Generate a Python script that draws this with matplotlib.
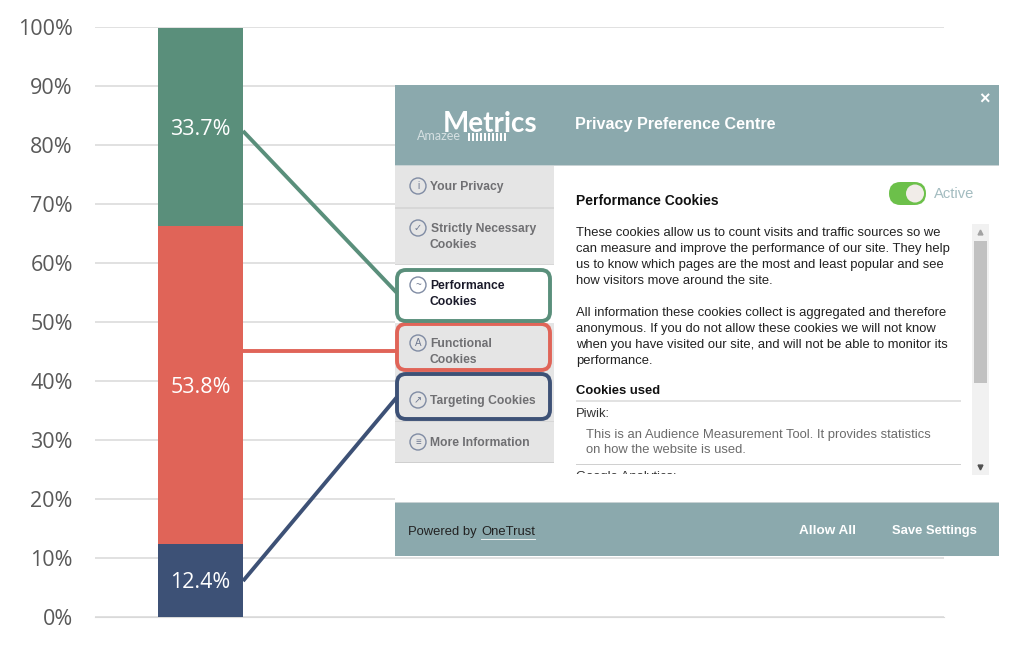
import matplotlib.pyplot as plt
from matplotlib.patches import Rectangle, FancyBboxPatch, Circle

shares = [12.4, 53.8, 33.7]
share_colors = ["#3d5176", "#e06458", "#5a8f7b"]
y_ticks = list(range(0, 101, 10))

W, H = 1023, 645
fig = plt.figure(figsize=(W / 100, H / 100), dpi=100)

# main chart, pixel box 95..944 x 27..617
ax = fig.add_axes([95 / W, (H - 617) / H, (944 - 95) / W, 590 / H])
ax.set_xlim(-0.5 - 63 / 85 + 0.0, 0.5 + 701 / 85)
ax.set_ylim(0, 100)
bottom = 0
for val, col in zip(shares, share_colors):
    ax.bar(0, val, width=1, bottom=bottom, color=col, zorder=3)
    ax.annotate(f"{val}%", (0, bottom + val / 2), xytext=(0, -1.5), textcoords="offset points",
                color="white", ha="center", va="center", fontsize=15.5, family="Open Sans", zorder=4)
    bottom += val
ax.set_yticks(y_ticks)
ax.set_yticklabels([f"{t}%" for t in y_ticks], fontsize=15.5, family="Open Sans", color="#595959")
ax.set_xticks([])
ax.grid(axis="y", color="#d9d9d9", lw=1.1, zorder=0)
ax.tick_params(axis="y", length=0, pad=16)
for s in ax.spines.values():
    s.set_visible(False)
ax.spines["bottom"].set_visible(True)
ax.spines["bottom"].set_color("#d9d9d9")

# overlay in pixel coordinates
ov = fig.add_axes([0, 0, 1, 1], zorder=5)
ov.set_xlim(0, W)
ov.set_ylim(H, 0)
ov.axis("off")
ov.patch.set_alpha(0)

teal = "#8ba9ad"
sans = ["Liberation Sans", "DejaVu Sans"]


def rect(x0, y0, x1, y1, col, z=1):
    ov.add_patch(Rectangle((x0, y0), x1 - x0, y1 - y0, fc=col, ec="none", zorder=z))


def txt(x, y, s, col="#222222", size=9.4, weight="normal", ha="left", **kw):
    ov.text(x, y + 1, s, color=col, fontsize=size, weight=weight, ha=ha, va="center",
            family=sans, zorder=6, **kw)


rect(395, 85, 999, 556, "white")
rect(395, 85, 999, 165, teal, 2)
rect(395, 165, 999, 166, "#c8d2d4", 2)
rect(395, 503, 999, 556, teal, 2)
rect(395, 502, 999, 503, "#c8d2d4", 2)

# logo and title
ov.text(443, 124, "Metrics", color="white", fontsize=20, family="Lato", weight="bold", va="center", zorder=6)
ov.text(417, 136, "Amazee", color="#d5e0e2", fontsize=9, family="Lato", va="center", zorder=6)
for px in range(468, 505, 4):
    rect(px, 133, px + 2, 141, "white", 6)
txt(575, 123, "Privacy Preference Centre", "white", 11.6, "bold")
txt(984, 99, "\u00d7", "white", 13, "bold", ha="center")

# side menu
rect(395, 166, 554, 463, "#e5e5e5", 2)
rect(395, 207, 554, 208.5, "#d7d7d7", 3)
rect(395, 264, 554, 265, "#d7d7d7", 3)
rect(395, 421, 554, 422, "#d7d7d7", 3)
rect(395, 462, 554, 463, "#cfcfcf", 3)
rect(395, 265, 554, 323, "white", 3)

grey = "#6f6f72"
menu = [(186, "Your Privacy", 430, grey, 186), (228, "Strictly Necessary", 431, grey, 228),
        (244, "Cookies", 430, grey, None), (285, "Performance", 430, "#1a1a2a", 285),
        (301, "Cookies", 430, "#1a1a2a", None), (343, "Functional", 430, grey, 343),
        (359, "Cookies", 430, grey, None), (400, "Targeting Cookies", 430, grey, 400),
        (442, "More Information", 430, grey, 442)]
for y, label, x, col, icon_y in menu:
    txt(x, y, label, col, 8.7, "bold")
    if icon_y is not None:
        ov.add_patch(Circle((418, icon_y), 8, fc="none", ec="#7f8ba3", lw=1, zorder=6))
icon_marks = ["i", "\u2713", "~", "A", "\u2197", "\u2261"]
for y, m in zip([186, 228, 285, 343, 400, 442], icon_marks):
    txt(418, y - 1, m, "#6d7890", 7, ha="center")

# highlighted rows
for (x0, y0, x1, y1), col in zip([(397, 374, 550, 419), (397, 324, 550, 370), (397, 270, 550, 321)],
                                 share_colors):
    ov.add_patch(FancyBboxPatch((x0 + 8, y0 + 8), x1 - x0 - 16, y1 - y0 - 16,
                                boxstyle="round,pad=8,rounding_size=9", fc="none", ec=col,
                                lw=2.8, zorder=7))

# connectors, starting at the bar's right edge
for (x0, y0, x1, y1), col in zip([(243, 581, 397, 397), (243, 351, 397, 351), (243, 131, 397, 293)],
                                 share_colors):
    ov.plot([x0, x1], [y0, y1], color=col, lw=2.8, zorder=7, solid_capstyle="butt")

# right hand text
txt(576, 200, "Performance Cookies", "#111111", 10, "bold")
body = [(232, "These cookies allow us to count visits and traffic sources so we"),
        (248, "can measure and improve the performance of our site. They help"),
        (264, "us to know which pages are the most and least popular and see"),
        (280, "how visitors move around the site."),
        (312, "All information these cookies collect is aggregated and therefore"),
        (328, "anonymous. If you do not allow these cookies we will not know"),
        (344, "when you have visited our site, and will not be able to monitor its"),
        (360, "performance.")]
for y, line in body:
    txt(576, y, line)
txt(576, 390, "Cookies used", "#111111", 9.4, "bold")
rect(576, 400, 961, 401.5, "#e2e2e2", 3)
txt(576, 413, "Piwik:", "#333333")
txt(586, 434, "This is an Audience Measurement Tool. It provides statistics", "#6b6b6b")
txt(586, 449, "on how the website is used.", "#6b6b6b")
rect(576, 464, 961, 465, "#d0d0d0", 3)
txt(576, 476, "Google Analytics:", "#333333")
rect(570, 474, 965, 483, "white", 6.5)

# toggle
ov.add_patch(FancyBboxPatch((889, 182), 37, 23, boxstyle="round,pad=0,rounding_size=11.5", fc="#6cc04a",
                            ec="none", zorder=5))
ov.add_patch(Circle((915, 193.5), 9, fc="#f1ece8", ec="none", zorder=6))
txt(934, 193, "Active", "#a3bcc0", 10.6)

# scrollbar
rect(972, 224, 989, 475, "#f1f1f1", 3)
rect(974, 241, 987, 383, "#c1c1c1", 4)
ov.plot([980], [232], marker="^", ms=3.5, color="#a3a3a3", zorder=5)
ov.plot([980], [467], marker="v", ms=3.5, color="#505050", zorder=5)

# footer
txt(408, 531, "Powered by", "#222222")
txt(481, 531, "OneTrust", "#222222")
rect(481, 539, 536, 540, "#e8eeee", 6)
txt(799, 530, "Allow All", "white", 9.7, "bold")
txt(892, 530, "Save Settings", "white", 9.4, "bold")

fig.savefig("out.png", dpi=100)
